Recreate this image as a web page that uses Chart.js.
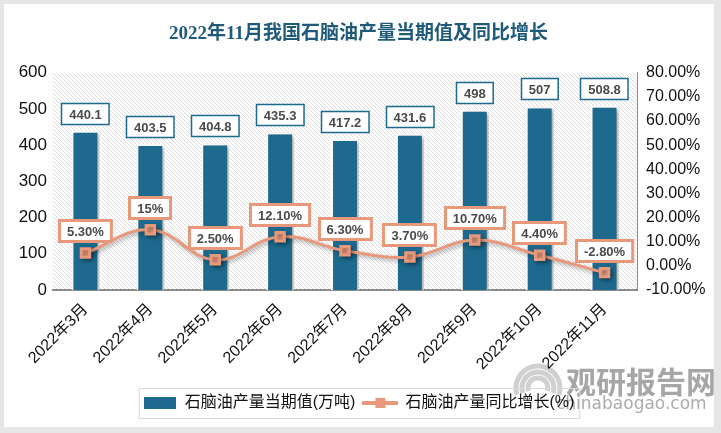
<!DOCTYPE html>
<html>
<head>
<meta charset="utf-8">
<script src="https://cdn.jsdelivr.net/npm/chart.js@4.4.1/dist/chart.umd.min.js"></script>
<style>
  html, body { margin: 0; padding: 0; background: #e6e6e6; }
  #wrap { position: absolute; left: 0; top: 0; width: 721px; height: 433px; }
</style>
</head>
<body>
<div id="wrap"><canvas id="chart" width="721" height="433"></canvas></div>
<script>
// data
const months = ['2022年3月', '2022年4月', '2022年5月', '2022年6月', '2022年7月', '2022年8月', '2022年9月', '2022年10月', '2022年11月'];
const output = [440.1, 403.5, 404.8, 435.3, 417.2, 431.6, 498, 507, 508.8];
const outputLabels = ['440.1', '403.5', '404.8', '435.3', '417.2', '431.6', '498', '507', '508.8'];
const growth = [5.3, 15, 2.5, 12.1, 6.3, 3.7, 10.7, 4.4, -2.8];
const growthLabels = ['5.30%', '15%', '2.50%', '12.10%', '6.30%', '3.70%', '10.70%', '4.40%', '-2.80%'];

const BAR = '#1d6a8e';
const LINE = '#e8997b';
const FONT = "'Liberation Sans', 'Noto Sans CJK SC', sans-serif";

// hatch for the plot background
function makeHatch() {
  const c = document.createElement('canvas');
  c.width = 4; c.height = 4;
  const g = c.getContext('2d');
  g.fillStyle = '#ffffff';
  g.fillRect(0, 0, 4, 4);
  g.fillStyle = '#dedede';
  for (let i = 0; i < 4; i++) g.fillRect(i, i, 1, 1);
  return c;
}

// legend swatches
function barSwatch() {
  const c = document.createElement('canvas');
  c.width = 32; c.height = 12;
  const g = c.getContext('2d');
  g.fillStyle = BAR;
  g.fillRect(0, 0, 32, 12);
  return c;
}
function lineSwatch() {
  const c = document.createElement('canvas');
  c.width = 36; c.height = 12;
  const g = c.getContext('2d');
  g.strokeStyle = LINE; g.lineWidth = 4;
  g.beginPath(); g.moveTo(0, 6); g.lineTo(36, 6); g.stroke();
  g.fillStyle = LINE;
  g.fillRect(13, 1, 10, 10);
  return c;
}

const framePlugin = {
  id: 'frame',
  beforeDraw(chart) {
    const ctx = chart.ctx;
    ctx.save();
    ctx.fillStyle = '#e6e6e6';
    ctx.fillRect(0, 0, chart.width, chart.height);
    ctx.fillStyle = '#ffffff';
    ctx.fillRect(4, 4, 710, 423);
    // hatched plot area
    const a = chart.chartArea;
    ctx.fillStyle = ctx.createPattern(makeHatch(), 'repeat');
    ctx.fillRect(a.left, a.top, a.right - a.left, a.bottom - a.top);
    // watermark
    ctx.strokeStyle = 'rgba(170,170,170,0.55)';
    ctx.lineWidth = 5;
    for (let r = 10; r <= 22; r += 6) {
      ctx.beginPath();
      ctx.arc(538, 388, r, Math.PI * 0.9, Math.PI * 2.1);
      ctx.stroke();
    }
    ctx.fillStyle = 'rgba(150,150,150,0.85)';
    ctx.font = "bold 30px 'Noto Sans CJK SC', sans-serif";
    ctx.textBaseline = 'middle';
    ctx.fillText('观研报告网', 566, 382);
    ctx.font = "17px 'DejaVu Sans', sans-serif";
    ctx.fillStyle = 'rgba(150,150,150,0.8)';
    ctx.fillText('chinabaogao.com', 556, 405);
    ctx.restore();
  }
};

// soft shadow under bars and line
const shadowPlugin = {
  id: 'shadow',
  beforeDatasetDraw(chart) {
    const ctx = chart.ctx;
    ctx.save();
    ctx.shadowColor = 'rgba(0,0,0,0.35)';
    ctx.shadowBlur = 4;
    ctx.shadowOffsetX = 2;
    ctx.shadowOffsetY = 2;
  },
  afterDatasetDraw(chart) {
    chart.ctx.restore();
  }
};

function labelBox(ctx, text, cx, bottom, border, lw) {
  ctx.font = 'bold 13px ' + FONT;
  const w = ctx.measureText(text).width + 16;
  const h = 22;
  const x = Math.round(cx - w / 2), y = Math.round(bottom - h);
  ctx.fillStyle = '#ffffff';
  ctx.fillRect(x, y, w, h);
  ctx.strokeStyle = border;
  ctx.lineWidth = lw;
  ctx.strokeRect(x + 0.5, y + 0.5, w - 1, h - 1);
  ctx.fillStyle = '#4a4a4a';
  ctx.textAlign = 'center';
  ctx.textBaseline = 'middle';
  ctx.fillText(text, cx, y + h / 2 + 1);
}

const labelPlugin = {
  id: 'valueLabels',
  afterDatasetsDraw(chart) {
    const ctx = chart.ctx;
    ctx.save();
    chart.getDatasetMeta(1).data.forEach((bar, i) => {
      labelBox(ctx, outputLabels[i], bar.x, bar.y - 6, BAR, 1.5);
    });
    chart.getDatasetMeta(0).data.forEach((pt, i) => {
      labelBox(ctx, growthLabels[i], pt.x, pt.y - 11, LINE, 3);
    });
    // border round the legend
    const boxes = chart.legend.legendHitBoxes;
    if (boxes && boxes.length) {
      const l = Math.min(...boxes.map(b => b.left)) - 4;
      const r = Math.max(...boxes.map(b => b.left + b.width)) + 5;
      const t = Math.min(...boxes.map(b => b.top)) - 7;
      const bt = Math.max(...boxes.map(b => b.top + b.height)) + 7;
      ctx.strokeStyle = '#d9d9d9';
      ctx.lineWidth = 1;
      ctx.strokeRect(l + 0.5, t + 0.5, r - l, bt - t);
    }
    ctx.restore();
  }
};

new Chart(document.getElementById('chart'), {
  data: {
    labels: months,
    datasets: [
      {
        type: 'line',
        label: '石脑油产量同比增长(%)',
        data: growth,
        yAxisID: 'y1',
        borderColor: LINE,
        backgroundColor: LINE,
        borderWidth: 3,
        tension: 0.4,
        pointStyle: 'rect',
        pointRadius: 6,
        pointBackgroundColor: LINE,
        pointBorderColor: LINE,
        order: 0
      },
      {
        type: 'bar',
        label: '石脑油产量当期值(万吨)',
        data: output,
        yAxisID: 'y',
        backgroundColor: BAR,
        borderColor: '#ffffff',
        borderWidth: 2,
        borderSkipped: 'bottom',
        categoryPercentage: 1,
        barPercentage: 0.43,
        order: 1
      }
    ]
  },
  options: {
    responsive: false,
    animation: false,
    layout: { padding: { left: 4, right: 8, top: 4, bottom: 12 } },
    plugins: {
      title: {
        display: true,
        text: '2022年11月我国石脑油产量当期值及同比增长',
        color: '#1f5a7a',
        font: { family: "'Liberation Serif', 'Noto Sans CJK SC', serif", size: 19 },
        padding: { top: 19, bottom: 27 }
      },
      legend: {
        position: 'bottom',
        labels: {
          color: '#111',
          font: { family: FONT, size: 16 },
          usePointStyle: true,
          pointStyleWidth: 34,
          boxHeight: 12,
          padding: 8,
          generateLabels: chart => [
            { text: '石脑油产量当期值(万吨)', pointStyle: barSwatch(), fillStyle: BAR, strokeStyle: BAR, lineWidth: 0, datasetIndex: 1, fontColor: '#111' },
            { text: '石脑油产量同比增长(%)', pointStyle: lineSwatch(), fillStyle: LINE, strokeStyle: LINE, lineWidth: 0, datasetIndex: 0, fontColor: '#111' }
          ]
        }
      },
      tooltip: { enabled: false }
    },
    scales: {
      x: {
        grid: { display: false },
        border: { color: '#8c8c8c', width: 2 },
        ticks: {
          color: '#111',
          font: { family: FONT, size: 16 },
          maxRotation: 45,
          minRotation: 45,
          padding: 2
        },
        afterFit: s => { s.height = 97; }
      },
      y: {
        position: 'left',
        min: 0,
        max: 600,
        grid: { display: false, drawTicks: false },
        border: { display: false },
        ticks: {
          stepSize: 100,
          color: '#111',
          font: { family: FONT, size: 17 },
          padding: 6
        },
        afterFit: s => { s.width = 49; }
      },
      y1: {
        position: 'right',
        min: -10,
        max: 80,
        grid: { display: false, drawOnChartArea: false, drawTicks: true, tickLength: 5, color: '#8c8c8c' },
        border: { color: '#8c8c8c', width: 1 },
        ticks: {
          stepSize: 10,
          color: '#111',
          font: { family: FONT, size: 16 },
          padding: 4,
          callback: v => v.toFixed(2) + '%'
        },
        afterFit: s => { s.width = 76; }
      }
    }
  },
  plugins: [framePlugin, shadowPlugin, labelPlugin]
});
</script>
</body>
</html>
